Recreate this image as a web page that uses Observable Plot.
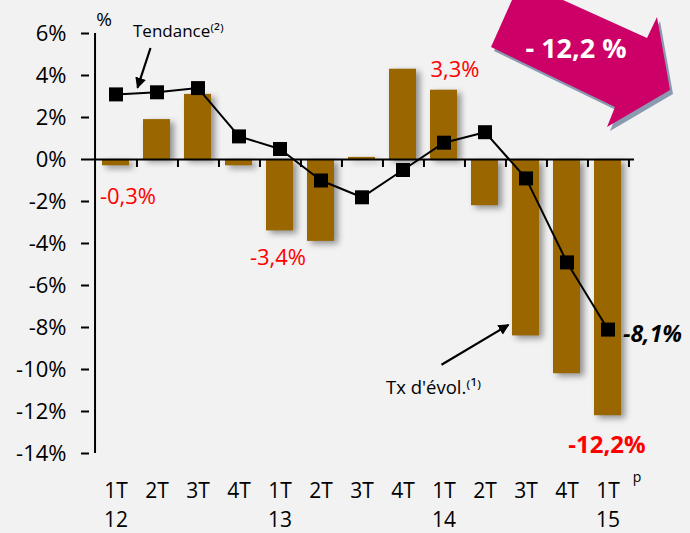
<!DOCTYPE html>
<html>
<head>
<meta charset="utf-8">
<script src="https://cdn.jsdelivr.net/npm/d3@7"></script>
<script src="https://cdn.jsdelivr.net/npm/@observablehq/plot@0.6"></script>
<style>
  html, body { margin: 0; padding: 0; background: #f2f2f2; }
  #chart { width: 690px; height: 533px; }
</style>
</head>
<body>
<div id="chart"></div>
<script>
// ---- data ----
const periods = ["1T12","2T12","3T12","4T12","1T13","2T13","3T13","4T13","1T14","2T14","3T14","4T14","1T15"];
const tickLabels = ["1T\n12","2T","3T","4T","1T\n13","2T","3T","4T","1T\n14","2T","3T","4T","1T\n15"];
const growth = [-0.3, 1.9, 3.1, -0.3, -3.4, -3.9, 0.1, 4.3, 3.3, -2.2, -8.4, -10.2, -12.2];
const trend = [3.1, 3.2, 3.4, 1.1, 0.5, -1.0, -1.8, -0.5, 0.8, 1.3, -0.9, -4.9, -8.1];
const yTicks = [6, 4, 2, 0, -2, -4, -6, -8, -10, -12, -14];

const rows = periods.map((p, i) => ({period: p, label: tickLabels[i], growth: growth[i], trend: trend[i]}));
const labelOf = new Map(rows.map(r => [r.period, r.label]));

const W = 690, H = 533, mL = 89, mR = 56, mT = 33, mB = 80;
const step = (W - mL - mR) / periods.length;
const font = "'Open Sans', Lato, sans-serif";

const plot = Plot.plot({
  width: W, height: H,
  marginLeft: mL, marginRight: mR, marginTop: mT, marginBottom: mB,
  style: {background: "transparent", fontFamily: font, fontSize: "22px", color: "#000", overflow: "visible"},
  x: {domain: periods, paddingInner: 0.33, paddingOuter: 0.165, axis: null, label: null},
  y: {domain: [-14, 6], axis: null, label: null},
  marks: [
    Plot.barY(rows, {x: "period", y: "growth", fill: "#996600"}),
    Plot.ruleY([0], {stroke: "#000", strokeWidth: 2}),
    Plot.ruleX(rows, {x: "period", y1: 0, y2: -0.38, dx: step / 2, stroke: "#000", strokeWidth: 2}),
    Plot.ruleX([periods[0]], {x: d => d, dx: -step / 2, y1: -14, y2: 6, stroke: "#000", strokeWidth: 2}),
    Plot.axisY({ticks: yTicks, tickSize: 8, tickPadding: 15, strokeWidth: 2, tickFormat: d => d + "%", fontSize: 22, label: null}),
    Plot.axisX({tickSize: 0, tickPadding: 24, tickFormat: d => labelOf.get(d), lineHeight: 1.38, fontSize: 21, label: null}),
    Plot.line(rows, {x: "period", y: "trend", stroke: "#000", strokeWidth: 2}),
    Plot.dot(rows, {x: "period", y: "trend", symbol: "square", r: 7.9, fill: "#000", stroke: "none"}),
    // value labels
    Plot.text([rows[0]], {x: "period", y: "growth", text: d => "-0,3%", dx: 12, dy: 31, fill: "#ff0000", fontSize: 22}),
    Plot.text([rows[4]], {x: "period", y: "growth", text: d => "-3,4%", dx: -2, dy: 27, fill: "#ff0000", fontSize: 22}),
    Plot.text([rows[8]], {x: "period", y: "growth", text: d => "3,3%", dx: 11, dy: -20, fill: "#ff0000", fontSize: 22}),
    Plot.text([rows[12]], {x: "period", y: "trend", text: d => "-8,1%", dx: 15, dy: 5, textAnchor: "start", fill: "#000", fontSize: 23, fontWeight: "bold", fontStyle: "italic"}),
    Plot.text([rows[12]], {x: "period", y: "growth", text: d => "-12,2%", dx: -1, dy: 30, fill: "#ff0000", fontSize: 24, fontWeight: "bold"}),
    // annotations
    Plot.text([rows[1]], {x: "period", y: () => 6, text: () => "Tendance⁽²⁾", dx: -24, dy: -2, textAnchor: "start", fontSize: 17}),
    Plot.text([rows[0]], {x: "period", y: () => 6, text: () => "%", dx: -12, dy: -14, fontSize: 19}),
    Plot.text([rows[8]], {x: "period", y: () => -10.9, text: () => "Tx d'évol.⁽¹⁾", dx: -58, textAnchor: "start", fontSize: 18.5}),
    Plot.text([rows[12]], {x: "period", frameAnchor: "bottom", text: () => "p", dx: 29, dy: 28, fontSize: 14})
  ]
});

document.getElementById("chart").appendChild(plot);

const svg = d3.select(plot);
svg.selectAll('g[aria-label="bar"]').style("filter", "drop-shadow(4px 3px 3px rgba(0,0,0,0.4))");

const xs = plot.scale("x"), ys = plot.scale("y");
const cx = p => xs.apply(p) + xs.bandwidth / 2;
const yy = v => ys.apply(v);

// annotation arrows
const defs = svg.append("defs");
defs.append("marker").attr("id", "ah").attr("viewBox", "0 0 10 10").attr("refX", 9).attr("refY", 5)
  .attr("markerWidth", 5).attr("markerHeight", 5).attr("orient", "auto")
  .append("path").attr("d", "M0,0 L10,5 L0,10 z").attr("fill", "#000");

const ann = svg.append("g");
ann.append("line")
  .attr("x1", cx(periods[1]) - 6).attr("y1", yy(6) + 15)
  .attr("x2", cx(periods[1]) - 19).attr("y2", yy(3.4))
  .attr("stroke", "#000").attr("stroke-width", 2.2).attr("marker-end", "url(#ah)");
ann.append("line")
  .attr("x1", cx(periods[8]) - 2).attr("y1", yy(-9.8))
  .attr("x2", cx(periods[10]) - 17).attr("y2", yy(-7.9))
  .attr("stroke", "#000").attr("stroke-width", 2.2).attr("marker-end", "url(#ah)");

// big decorative arrow
const bigArrow = [[491,47],[512,0],[563,0],[647,38],[657,17],[670,90],[607,127],[615,107]];
const pts = a => a.map(p => p.join(",")).join(" ");
const ag = svg.append("g");
ag.append("polygon").attr("points", pts(bigArrow.map(([x, y]) => [x + 3, y + 4]))).attr("fill", "#8a9ab0");
ag.append("polygon").attr("points", pts(bigArrow)).attr("fill", "#cc0066");
ag.append("text").attr("x", 576).attr("y", 58).attr("text-anchor", "middle")
  .attr("font-family", font).attr("font-weight", "bold").attr("font-size", 27)
  .attr("fill", "#fff").text("- 12,2 %");
</script>
</body>
</html>
